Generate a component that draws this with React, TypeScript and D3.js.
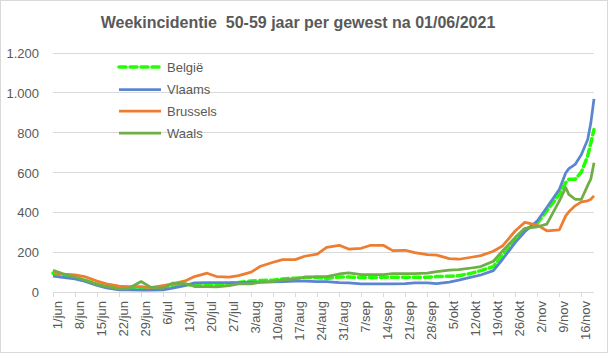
import React from 'react';
import * as d3 from 'd3';

const sampleDates = [
  '2021-06-01', '2021-06-04', '2021-06-08', '2021-06-11', '2021-06-15', '2021-06-18', '2021-06-22', '2021-06-25', '2021-06-29',
  '2021-07-02', '2021-07-06', '2021-07-09', '2021-07-13', '2021-07-16', '2021-07-20', '2021-07-23', '2021-07-27', '2021-07-30',
  '2021-08-03', '2021-08-06', '2021-08-10', '2021-08-13', '2021-08-17', '2021-08-20', '2021-08-24', '2021-08-27', '2021-08-31',
  '2021-09-03', '2021-09-07', '2021-09-10', '2021-09-14', '2021-09-17', '2021-09-21', '2021-09-24', '2021-09-28',
  '2021-10-01', '2021-10-05', '2021-10-08', '2021-10-12', '2021-10-15', '2021-10-19', '2021-10-22', '2021-10-26', '2021-10-29',
  '2021-11-02', '2021-11-05', '2021-11-09', '2021-11-11', '2021-11-12', '2021-11-14', '2021-11-16', '2021-11-18', '2021-11-19', '2021-11-20',
];

const belgie = [
  97, 88, 72, 62, 42, 32, 22, 18, 20, 18, 25, 35, 40, 38, 38, 40, 45, 50, 58, 60, 62, 68, 72, 75, 75, 70, 78,
  78, 75, 75, 77, 77, 77, 77, 77, 80, 82, 84, 97, 110, 130, 190, 260, 315, 348, 410, 493, 552, 568, 568, 605, 685, 752, 818,
];
const vlaams = [
  82, 76, 68, 57, 35, 23, 13, 13, 12, 12, 13, 22, 35, 48, 50, 50, 50, 50, 52, 52, 53, 55, 57, 57, 55, 55, 50,
  48, 43, 43, 43, 43, 45, 48, 48, 45, 52, 62, 77, 88, 110, 168, 252, 305, 360, 427, 518, 600, 622, 643, 693, 768, 852, 972,
];
const brussels = [
  100, 92, 88, 80, 57, 43, 32, 30, 30, 25, 35, 43, 58, 80, 97, 80, 77, 85, 102, 132, 152, 165, 165, 182, 193, 227, 237,
  218, 222, 237, 237, 210, 212, 200, 190, 188, 170, 167, 177, 185, 207, 235, 310, 352, 338, 310, 315, 385, 405, 435, 455, 460, 468, 485,
];
const waals = [
  112, 95, 78, 63, 40, 30, 18, 20, 55, 27, 22, 47, 45, 30, 30, 28, 35, 43, 43, 52, 55, 63, 68, 77, 80, 80, 93,
  98, 90, 90, 90, 95, 95, 95, 97, 105, 112, 115, 123, 130, 157, 210, 277, 322, 330, 343, 460, 527, 493, 468, 468, 538, 570, 652,
];

const yTicks = [0, 200, 400, 600, 800, 1000, 1200];
const monthNames = ['jan', 'feb', 'mrt', 'apr', 'mei', 'jun', 'jul', 'aug', 'sep', 'okt', 'nov', 'dec'];

const series = [
  {name: 'België', values: belgie, color: '#22ff00', width: 3.5, dash: '7 4'},
  {name: 'Vlaams', values: vlaams, color: '#5b86cf', width: 2.75, dash: null},
  {name: 'Brussels', values: brussels, color: '#ed7d31', width: 2.75, dash: null},
  {name: 'Waals', values: waals, color: '#70ad47', width: 2.75, dash: null},
];

const W = 608;
const H = 353;
const font = '"Liberation Sans", Arial, sans-serif';
const textColor = '#595959';

const App: React.FC = () => {
  const parse = d3.utcParse('%Y-%m-%d');
  const dates = sampleDates.map((s) => parse(s) as Date);

  const x = d3
    .scaleUtc()
    .domain([dates[0], dates[dates.length - 1]])
    .range([53, 594]);
  const y = d3.scaleLinear().domain([0, 1200]).range([292.5, 53.5]);

  const nl = d3.formatLocale({decimal: ',', thousands: '.', grouping: [3], currency: ['€', '']});
  const fmt = nl.format(',');

  const weekTicks = d3.utcDay.range(dates[0], d3.utcDay.offset(dates[dates.length - 1], 1), 7);
  const tickLabel = (d: Date) => `${d.getUTCDate()}/${monthNames[d.getUTCMonth()]}`;

  const line = d3
    .line<number>()
    .x((_, i) => x(dates[i]))
    .y((v) => y(v));

  const legendY = [67, 89.5, 111, 133];

  return (
    <svg width={W} height={H} style={{position: 'absolute', left: 0, top: 0}} fontFamily={font}>
      <rect x={0.5} y={0.5} width={W - 1} height={H - 1} fill="#fff" stroke="#d9d9d9" />
      <text
        x={298}
        y={28}
        textAnchor="middle"
        fontSize={16}
        fontWeight="bold"
        fill={textColor}
        style={{whiteSpace: 'pre'}}
      >
        Weekincidentie  50-59 jaar per gewest na 01/06/2021
      </text>

      {/* grid + y labels */}
      {yTicks.map((t) => (
        <g key={t}>
          <line x1={53} x2={594} y1={Math.round(y(t)) - 0.5} y2={Math.round(y(t)) - 0.5} stroke="#d9d9d9" />
          <text x={39} y={y(t)} dy="0.35em" textAnchor="end" fontSize={13} fill={textColor}>
            {fmt(t)}
          </text>
        </g>
      ))}

      {/* x ticks */}
      {weekTicks.map((d) => {
        const xx = Math.round(x(d)) + 0.5;
        return (
          <g key={+d}>
            <line x1={xx} x2={xx} y1={292} y2={297} stroke="#d9d9d9" />
            <text
              transform={`translate(${xx + 3.5},301) rotate(-90)`}
              dy="0.35em"
              textAnchor="end"
              fontSize={13}
              fill={textColor}
            >
              {tickLabel(d)}
            </text>
          </g>
        );
      })}

      {/* series */}
      {series.map((s) => (
        <path
          key={s.name}
          d={line(s.values) ?? ''}
          fill="none"
          stroke={s.color}
          strokeWidth={s.width}
          strokeDasharray={s.dash ?? undefined}
          strokeLinecap={s.dash ? 'round' : 'butt'}
          strokeLinejoin="round"
        />
      ))}

      {/* legend */}
      {series.map((s, i) => (
        <g key={s.name}>
          <line
            x1={119}
            x2={161}
            y1={legendY[i]}
            y2={legendY[i]}
            stroke={s.color}
            strokeWidth={s.width}
            strokeDasharray={s.dash ?? undefined}
            strokeLinecap={s.dash ? 'round' : 'butt'}
          />
          <text x={167} y={legendY[i]} dy="0.35em" fontSize={13} fill={textColor}>
            {s.name}
          </text>
        </g>
      ))}
    </svg>
  );
};

export default App;
